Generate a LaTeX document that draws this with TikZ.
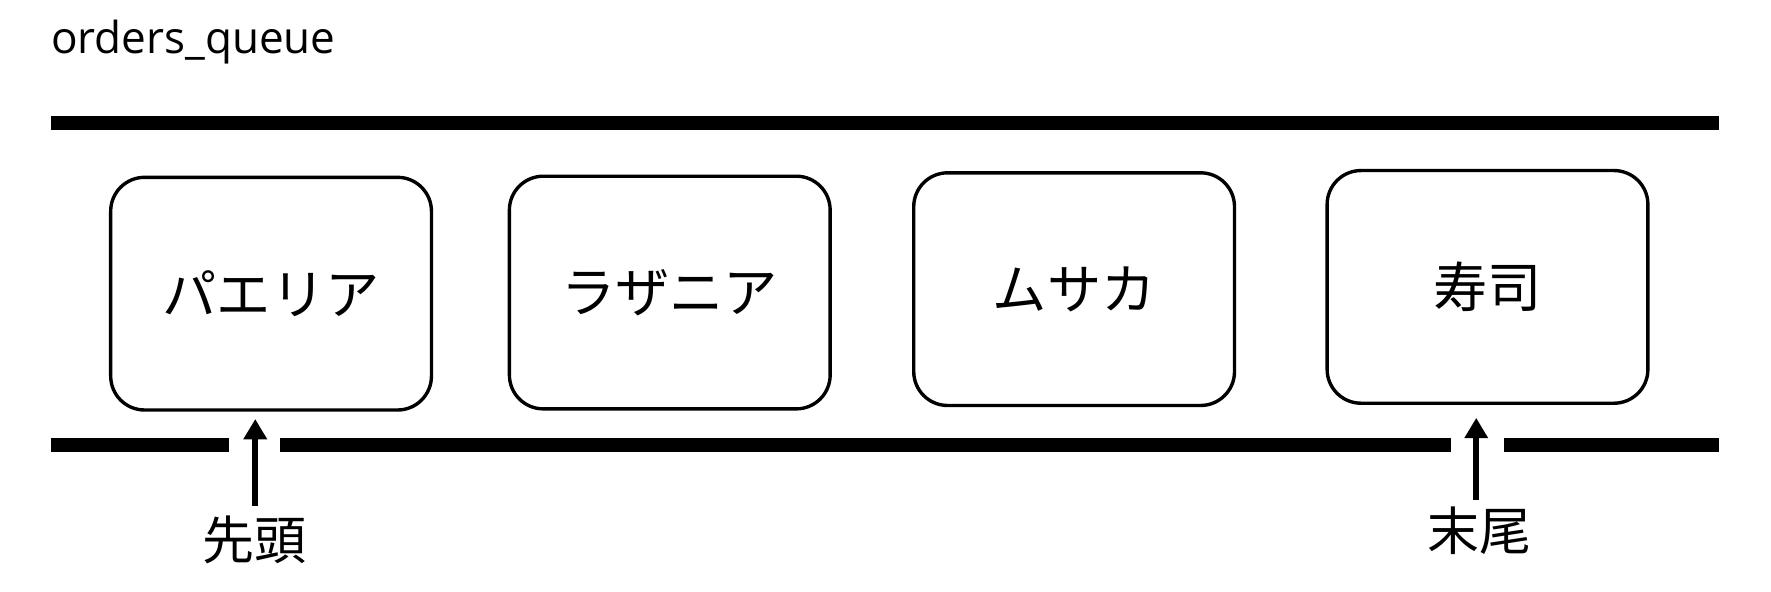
\documentclass[tikz,border=0pt]{standalone}
\usepackage{fontspec}
\setmainfont{Open Sans}
\newfontfamily\cjk{Noto Sans CJK JP}
\usetikzlibrary{arrows.meta}
\begin{document}
\begin{tikzpicture}[x=1pt,y=-1pt,
  bar/.style={line width=12pt},
  item/.style={draw, line width=3pt, rounded corners=30pt, minimum width=284pt, minimum height=206pt, font=\cjk\fontsize{48}{52}\selectfont, inner sep=0pt},
  ptr/.style={line width=5pt, -{Triangle[width=20pt,length=18pt]}},
  lbl/.style={font=\cjk\fontsize{46}{50}\selectfont, inner sep=0pt}]
\useasboundingbox (0,0) rectangle (1568,524);
\fill[white] (0,0) rectangle (1568,524);
\node[anchor=base west, inner sep=0pt, font=\fontsize{39}{42}\selectfont] (title) at (45,47) {orders\_queue};
% bars
\coordinate (t1) at (45,109); \coordinate (t2) at (1522,109);
\draw[bar] (t1) -- (t2);
\coordinate (b1) at (45,394); \coordinate (b2) at (203,394);
\coordinate (b3) at (248,394); \coordinate (b4) at (1285,394);
\coordinate (b5) at (1332,394); \coordinate (b6) at (1522,394);
\draw[bar] (b1) -- (b2);
\draw[bar] (b3) -- (b4);
\draw[bar] (b5) -- (b6);
% items
\node[item] (n1) at (240,260) {パエリア};
\node[item] (n2) at (593,259) {ラザニア};
\node[item] (n3) at (951,256) {ムサカ};
\node[item] (n4) at (1317,254) {寿司};
% pointers
\node[lbl] (head) at (225,478) {先頭};
\node[lbl] (tail) at (1310,470) {末尾};
\coordinate (h0) at (226,448); \coordinate (h1) at (226,371);
\coordinate (e0) at (1307,443); \coordinate (e1) at (1307,370);
\draw[ptr] (h0) -- (h1);
\draw[ptr] (e0) -- (e1);
\end{tikzpicture}
\end{document}
